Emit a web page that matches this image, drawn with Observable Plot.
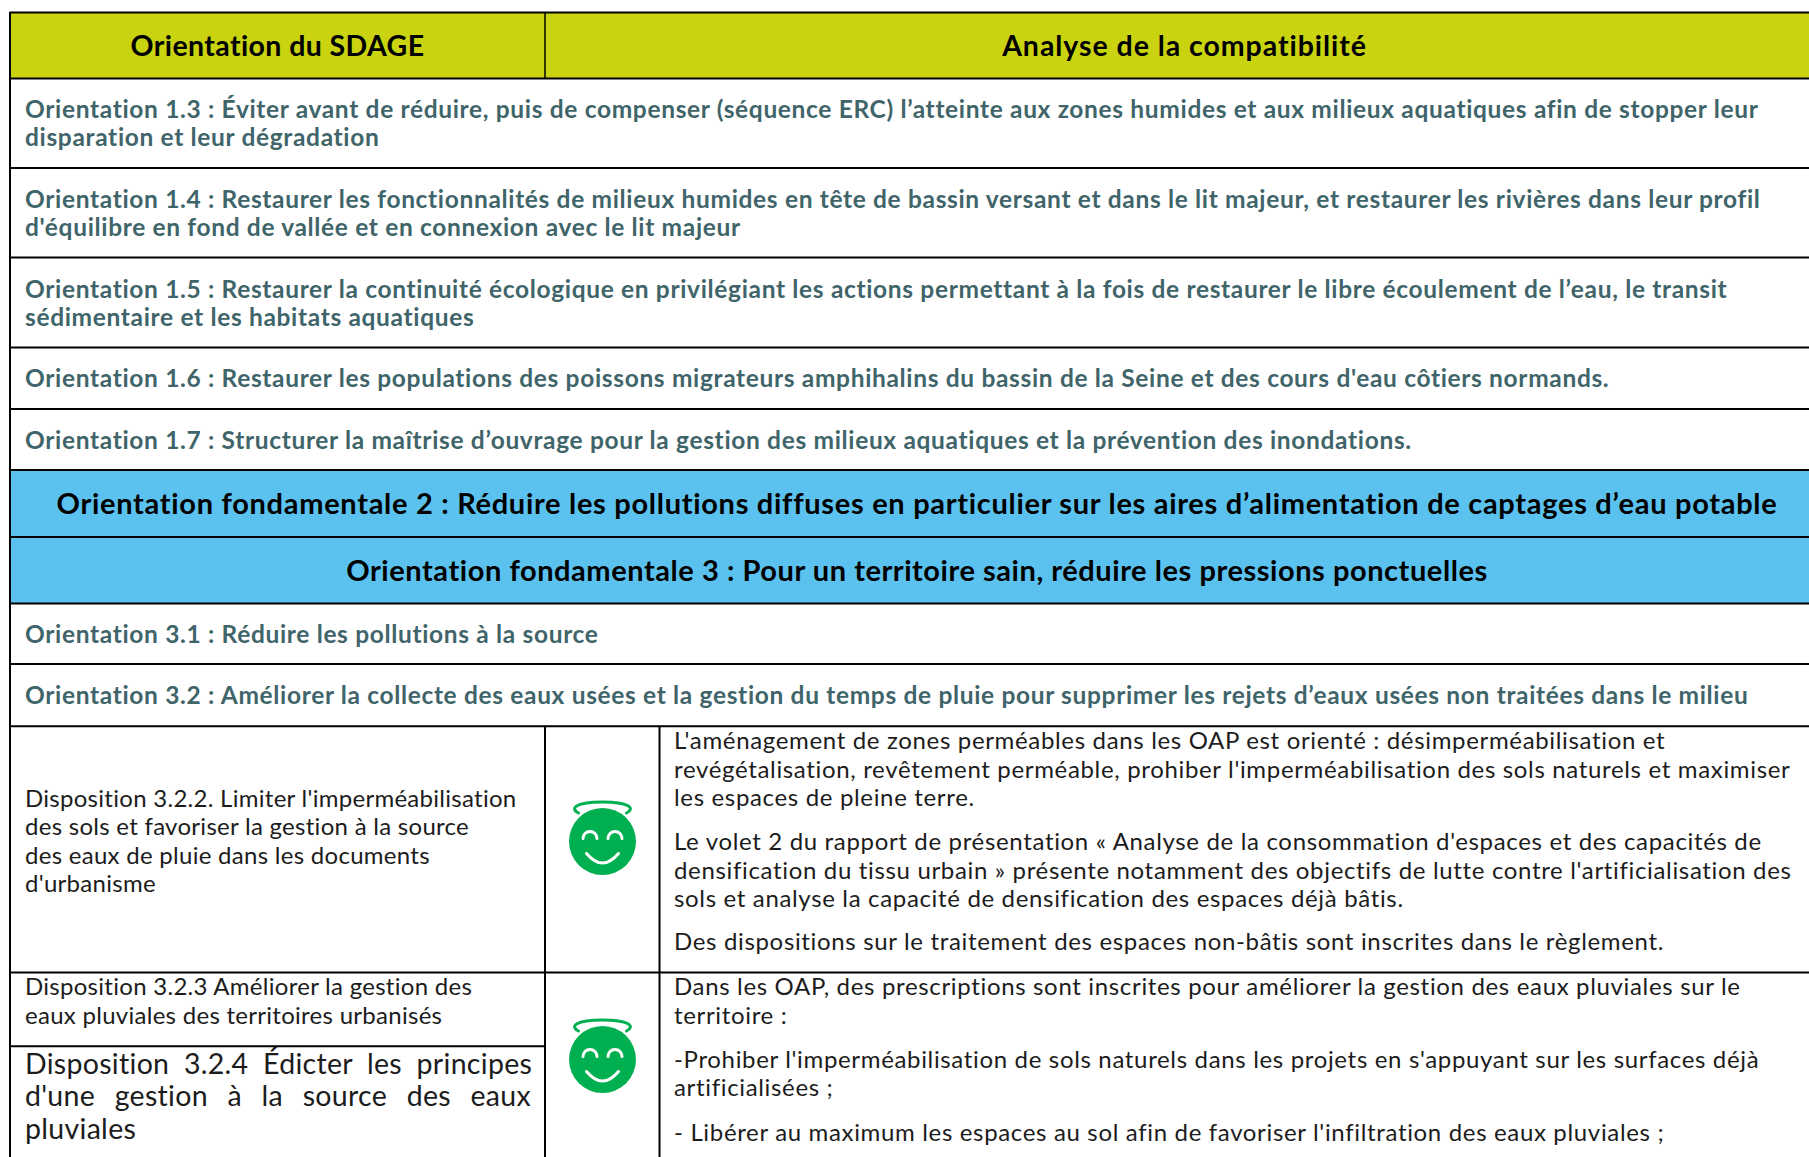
<!DOCTYPE html>
<html lang="fr"><head><meta charset="utf-8">
<script src="https://cdn.jsdelivr.net/npm/d3@7"></script>
<script src="https://cdn.jsdelivr.net/npm/@observablehq/plot@0.6"></script>
<style>
html,body{margin:0;padding:0;background:#fff;overflow:hidden}
.head1 text{letter-spacing:0.4px}
.head2 text{letter-spacing:0.95px}
.orient text{letter-spacing:0.66px}
.band1 text{letter-spacing:0.7px}
.band2 text{letter-spacing:0.55px}
.dispo text{letter-spacing:0.28px}
.analyse text{letter-spacing:0.66px}
.big text{letter-spacing:0.3px}
.just1 text{word-spacing:7px}
.just2 text{word-spacing:12px}
</style></head><body><div id="c"></div>
<script>
const headers = ["Orientation du SDAGE", "Analyse de la compatibilité"];
const orientations = [
 "Orientation 1.3 : Éviter avant de réduire, puis de compenser (séquence ERC) l’atteinte aux zones humides et aux milieux aquatiques afin de stopper leur\ndisparation et leur dégradation",
 "Orientation 1.4 : Restaurer les fonctionnalités de milieux humides en tête de bassin versant et dans le lit majeur, et restaurer les rivières dans leur profil\nd'équilibre en fond de vallée et en connexion avec le lit majeur",
 "Orientation 1.5 : Restaurer la continuité écologique en privilégiant les actions permettant à la fois de restaurer le libre écoulement de l’eau, le transit\nsédimentaire et les habitats aquatiques",
 "Orientation 1.6 : Restaurer les populations des poissons migrateurs amphihalins du bassin de la Seine et des cours d'eau côtiers normands.",
 "Orientation 1.7 : Structurer la maîtrise d’ouvrage pour la gestion des milieux aquatiques et la prévention des inondations.",
 "Orientation 3.1 : Réduire les pollutions à la source",
 "Orientation 3.2 : Améliorer la collecte des eaux usées et la gestion du temps de pluie pour supprimer les rejets d’eaux usées non traitées dans le milieu"
];
const bands = [
 "Orientation fondamentale 2 : Réduire les pollutions diffuses en particulier sur les aires d’alimentation de captages d’eau potable",
 "Orientation fondamentale 3 : Pour un territoire sain, réduire les pressions ponctuelles"
];
const dispositions = [
 "Disposition 3.2.2. Limiter l'imperméabilisation\ndes sols et favoriser la gestion à la source\ndes eaux de pluie dans les documents\nd'urbanisme",
 "Disposition 3.2.3 Améliorer la gestion des\neaux pluviales des territoires urbanisés"
];
const dispositionFirst = "Disposition 3.2.4 Édicter les principes";
const dispositionSecond = "d'une gestion à la source des eaux";
const dispositionLast = "pluviales";
const analyses = [
 "L'aménagement de zones perméables dans les OAP est orienté : désimperméabilisation et\nrevégétalisation, revêtement perméable, prohiber l'imperméabilisation des sols naturels et maximiser\nles espaces de pleine terre.",
 "Le volet 2 du rapport de présentation « Analyse de la consommation d'espaces et des capacités de\ndensification du tissu urbain » présente notamment des objectifs de lutte contre l'artificialisation des\nsols et analyse la capacité de densification des espaces déjà bâtis.",
 "Des dispositions sur le traitement des espaces non-bâtis sont inscrites dans le règlement.",
 "Dans les OAP, des prescriptions sont inscrites pour améliorer la gestion des eaux pluviales sur le\nterritoire :",
 "-Prohiber l'imperméabilisation de sols naturels dans les projets en s'appuyant sur les surfaces déjà\nartificialisées ;",
 "- Libérer au maximum les espaces au sol afin de favoriser l'infiltration des eaux pluviales ;"
];
// table geometry, in the plot's own pixel-like scale units
const W = 1809, H = 1157;
const colX = [9.5, 544.5, 659, W];
const rowY = [12, 78, 167.5, 257, 347, 408.5, 469.5, 536.5, 603, 663.5, 725.7, 972];
const orientY = [122.5, 212.5, 302.5, 377, 439.5, 633.5, 694.5];
const bandRows = [[469.5, 536.5, 504], [536.5, 603, 571]];
const dispoY = [840, 1000];
const analyseY = [768, 869, 940.5, 1000, 1072.5, 1131];
const smileyY = [841, 1059];

const FONT = "Lato, 'Open Sans', sans-serif";
const TEAL = "#3f656a", LIME = "#c9d30f", SKY = "#5bc1ee", GREEN = "#00b050", INK = "#1c1c1c";

function symbol(fn){ return {draw(ctx, size){ const s = Math.sqrt(size/Math.PI)/33.5; fn(ctx, s); }}; }
const face = symbol((c,s)=>{ c.arc(0,0,33.5*s,0,2*Math.PI); });
const detail = symbol((c,s)=>{
  c.moveTo(-19.5*s,-3*s); c.arc(-12.5*s,-3*s,7*s,Math.PI,2*Math.PI);
  c.moveTo(5.5*s,-3*s); c.arc(12.5*s,-3*s,7*s,Math.PI,2*Math.PI);
  c.moveTo(-16*s,12*s); c.quadraticCurveTo(0,31*s,16*s,12*s);
});
const halo = symbol((c,s)=>{
  c.moveTo(-24*s,-28.5*s); c.bezierCurveTo(-33*s,-33*s,-27*s,-39.5*s,0,-39.5*s);
  c.bezierCurveTo(27*s,-39.5*s,33*s,-33*s,24*s,-28.5*s);
});

const text = (rows, o) => Plot.text(rows, {x:"x", y:"y", text:"t", fontFamily:FONT, lineAnchor:"middle", ...o});
const orientRows = orientations.map((t,i)=>({t, x:24.5, y:orientY[i]}));
const dispoRows = dispositions.map((t,i)=>({t, x:24.5, y:dispoY[i]}));
const analyseRows = analyses.map((t,i)=>({t, x:673.5, y:analyseY[i]}));

const plot = Plot.plot({
  width:W, height:H, margin:0,
  x:{domain:[0,W], range:[0,W], axis:null},
  y:{domain:[0,H], range:[0,H], axis:null},
  style:{background:"#fff", overflow:"hidden"},
  marks:[
    Plot.rect([{x1:colX[0],x2:W,y1:rowY[0],y2:rowY[1]}], {x1:"x1",x2:"x2",y1:"y1",y2:"y2",fill:LIME}),
    Plot.rect(bandRows, {x1:colX[0],x2:W,y1:d=>d[0],y2:d=>d[1],fill:SKY}),
    Plot.ruleY(rowY, {x1:colX[0],x2:W,stroke:"#000",strokeWidth:2}),
    Plot.ruleY([1045.7], {x1:colX[0],x2:colX[1],stroke:"#000",strokeWidth:2}),
    Plot.ruleX([colX[0]], {y1:rowY[0],y2:H,stroke:"#000",strokeWidth:2}),
    Plot.ruleX([colX[1]], {y1:rowY[0],y2:rowY[1],stroke:"#000",strokeWidth:1.5}),
    Plot.ruleX([colX[1],colX[2]], {y1:rowY[10],y2:H,stroke:"#000",strokeWidth:2}),
    text([{t:headers[0],x:277,y:46}],{textAnchor:"middle",fontSize:28.5,fontWeight:700,fill:"#000",className:"head1"}),
    text([{t:headers[1],x:1184,y:46}],{textAnchor:"middle",fontSize:28.5,fontWeight:700,fill:"#000",className:"head2"}),
    text(orientRows,{textAnchor:"start",fontSize:24.5,lineHeight:1.155,fontWeight:700,fill:TEAL,className:"orient"}),
    text([{t:bands[0],x:916.5,y:bandRows[0][2]}],{textAnchor:"middle",fontSize:29,fontWeight:700,fill:"#000",className:"band1"}),
    text([{t:bands[1],x:916.5,y:bandRows[1][2]}],{textAnchor:"middle",fontSize:29,fontWeight:700,fill:"#000",className:"band2"}),
    text(dispoRows,{textAnchor:"start",fontSize:24,lineHeight:1.18,fontWeight:400,fill:INK,className:"dispo"}),
    text(analyseRows,{textAnchor:"start",fontSize:24,lineHeight:1.18,fontWeight:400,fill:INK,className:"analyse"}),
    text([{t:dispositionFirst,x:24.5,y:1064}],{textAnchor:"start",fontSize:28.5,fontWeight:400,fill:INK,className:"big just1"}),
    text([{t:dispositionSecond,x:24.5,y:1096}],{textAnchor:"start",fontSize:28.5,fontWeight:400,fill:INK,className:"big just2"}),
    text([{t:dispositionLast,x:24.5,y:1129}],{textAnchor:"start",fontSize:28.5,fontWeight:400,fill:INK,className:"big"}),
    Plot.dot(smileyY,{x:602,y:d=>d,r:33.5,symbol:()=>face,fill:GREEN,stroke:"none"}),
    Plot.dot(smileyY,{x:602,y:d=>d,r:33.5,symbol:()=>detail,fill:"none",stroke:"#fff",strokeWidth:3,strokeLinecap:"round"}),
    Plot.dot(smileyY,{x:602,y:d=>d,r:33.5,symbol:()=>halo,fill:"none",stroke:GREEN,strokeWidth:3,strokeLinecap:"round"})
  ]
});
document.getElementById("c").append(plot);
</script></body></html>
